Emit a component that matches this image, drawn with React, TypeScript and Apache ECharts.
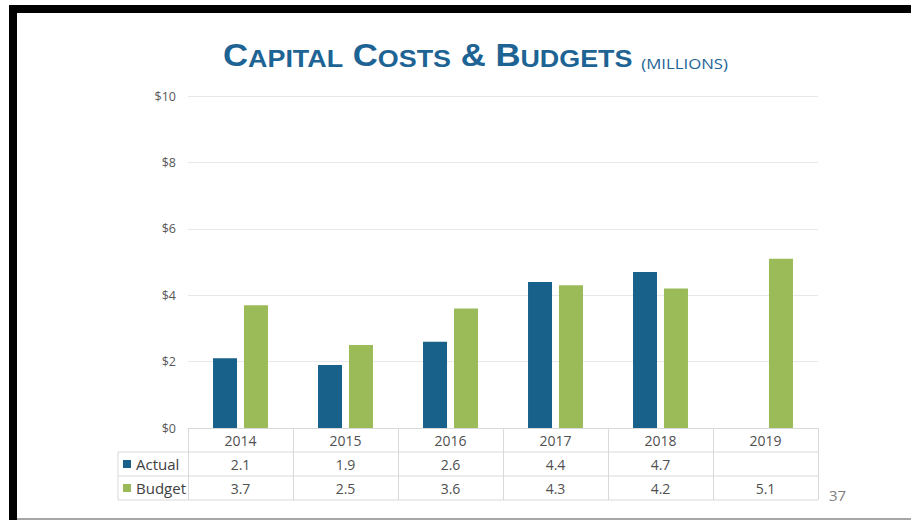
import React, { useEffect, useRef } from "react";
import * as echarts from "echarts";

const years = ["2014", "2015", "2016", "2017", "2018", "2019"];
const actual: (number | null)[] = [2.1, 1.9, 2.6, 4.4, 4.7, null];
const budget: number[] = [3.7, 2.5, 3.6, 4.3, 4.2, 5.1];
const seriesNames = ["Actual", "Budget"];
const yTicks = [0, 2, 4, 6, 8, 10];
const pageNumber = "37";

const FONT = "'Open Sans', 'Noto Sans', sans-serif";
const TITLE_FONT = "'Liberation Sans', Arial, sans-serif";
const TITLE_COLOR = "#1d6394";

export default function App() {
  const ref = useRef<HTMLDivElement>(null);
  useEffect(() => {
    if (!ref.current) return;
    const chart = echarts.init(ref.current, undefined, { renderer: "svg" });
    const L = 188, R = 818, T = 96, B = 428;
    const rowH = 24;
    const fmt = (v: number | null) => (v == null ? " " : String(v));
    chart.setOption({
      animation: false,
      backgroundColor: "#ffffff",
      grid: { left: L, right: 911 - R, top: T, bottom: 520 - B, containLabel: false },
      legend: {
        data: seriesNames,
        orient: "vertical",
        left: 123,
        top: 452,
        itemGap: 0,
        itemWidth: 8,
        itemHeight: 8,
        icon: "rect",
        padding: 0,
        textStyle: { fontFamily: FONT, fontSize: 15, color: "#404040", lineHeight: rowH },
      },
      xAxis: {
        type: "category",
        data: years,
        axisLine: { show: true, lineStyle: { color: "#d9d9d9", width: 1 } },
        axisTick: { show: true, interval: 0, length: rowH * 3, lineStyle: { color: "#d9d9d9" } },
        axisLabel: {
          interval: 0,
          margin: 0,
          fontFamily: FONT,
          fontSize: 14,
          color: "#505050",
          lineHeight: rowH,
          formatter: (v: string, i: number) => `${v}\n${fmt(actual[i])}\n${fmt(budget[i])}`,
        },
      },
      yAxis: {
        type: "value",
        min: yTicks[0],
        max: yTicks[yTicks.length - 1],
        interval: 2,
        axisLine: { show: false },
        axisTick: { show: false },
        splitLine: { lineStyle: { color: "#e8e8e8" } },
        axisLabel: { formatter: "${value}", fontFamily: FONT, fontSize: 12.5, color: "#595959", margin: 12 },
      },
      series: [
        { name: seriesNames[0], type: "bar", data: actual, barWidth: 24, barGap: "29%", itemStyle: { color: "#17618b" } },
        { name: seriesNames[1], type: "bar", data: budget, barWidth: 24, itemStyle: { color: "#9bbb59" } },
      ],
      graphic: [
        { type: "rect", shape: { x: 9, y: 5, width: 902, height: 8 }, style: { fill: "#000" } },
        { type: "rect", shape: { x: 9, y: 5, width: 8, height: 515 }, style: { fill: "#000" } },
        { type: "rect", shape: { x: 17, y: 518, width: 894, height: 2 }, style: { fill: "#a6a6a6" } },
        { type: "line", shape: { x1: 118, y1: B + rowH, x2: R, y2: B + rowH }, style: { stroke: "#d9d9d9", lineWidth: 1 } },
        { type: "line", shape: { x1: 118, y1: B + rowH * 2, x2: R, y2: B + rowH * 2 }, style: { stroke: "#d9d9d9", lineWidth: 1 } },
        { type: "line", shape: { x1: 118, y1: B + rowH * 3, x2: R, y2: B + rowH * 3 }, style: { stroke: "#d9d9d9", lineWidth: 1 } },
        { type: "line", shape: { x1: 118, y1: B + rowH, x2: 118, y2: B + rowH * 3 }, style: { stroke: "#d9d9d9", lineWidth: 1 } },
        {
          type: "text",
          x: 223,
          y: 40,
          scaleX: 1.12,
          style: {
            text: "{b|C}{s|APITAL}{b| C}{s|OSTS}{b| & B}{s|UDGETS}{m|  (MILLIONS)}",
            rich: {
              b: { fontFamily: TITLE_FONT, fontWeight: "bold", fontSize: 31, fill: TITLE_COLOR, verticalAlign: "bottom" },
              s: { fontFamily: TITLE_FONT, fontWeight: "bold", fontSize: 24, fill: TITLE_COLOR, verticalAlign: "bottom" },
              m: { fontFamily: FONT, fontSize: 15, fill: TITLE_COLOR, verticalAlign: "bottom" },
            },
          },
        },
        {
          type: "text",
          x: 829,
          y: 487,
          style: { text: pageNumber, fontFamily: FONT, fontSize: 15, fill: "#7f7f7f" },
        },
      ],
    });
    return () => chart.dispose();
  }, []);
  return <div ref={ref} style={{ position: "absolute", left: 0, top: 0, width: 911, height: 520 }} />;
}
